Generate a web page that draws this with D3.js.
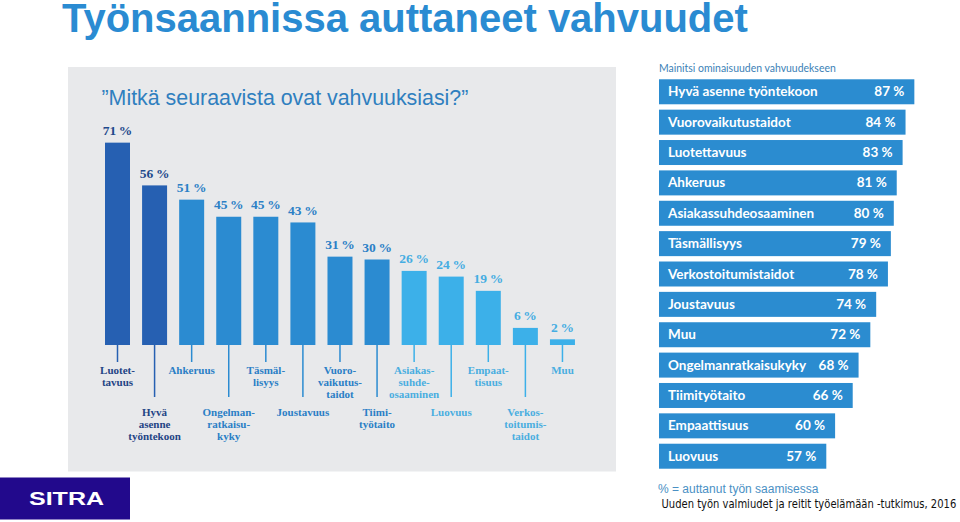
<!DOCTYPE html>
<html><head><meta charset="utf-8">
<script src="https://cdn.jsdelivr.net/npm/d3@7/dist/d3.min.js"></script>
<style>html,body{margin:0;padding:0;background:#fff;}svg{display:block;}</style>
</head><body>
<script>
// ---- data ----
const leftCategories = ["Luotettavuus","Hyvä asenne työntekoon","Ahkeruus","Ongelmanratkaisukyky","Täsmällisyys","Joustavuus","Vuorovaikutustaidot","Tiimityötaito","Asiakassuhdeosaaminen","Luovuus","Empaattisuus","Verkostoitumistaidot","Muu"];
const leftValues = [71,56,51,45,45,43,31,30,26,24,19,6,2];
const leftTickLabels = [["Luotet-","tavuus"],["Hyvä","asenne","työntekoon"],["Ahkeruus"],["Ongelman-","ratkaisu-","kyky"],["Täsmäl-","lisyys"],["Joustavuus"],["Vuoro-","vaikutus-","taidot"],["Tiimi-","työtaito"],["Asiakas-","suhde-","osaaminen"],["Luovuus"],["Empaat-","tisuus"],["Verkos-","toitumis-","taidot"],["Muu"]];
const rightCategories = ["Hyvä asenne työntekoon","Vuorovaikutustaidot","Luotettavuus","Ahkeruus","Asiakassuhdeosaaminen","Täsmällisyys","Verkostoitumistaidot","Joustavuus","Muu","Ongelmanratkaisukyky","Tiimityötaito","Empaattisuus","Luovuus"];
const rightValues = [87,84,83,81,80,79,78,74,72,68,66,60,57];
const texts = {
  title: "Työnsaannissa auttaneet vahvuudet",
  question: "\u201DMitkä seuraavista ovat vahvuuksiasi?\u201D",
  rightTitle: "Mainitsi ominaisuuden vahvuudekseen",
  note: "% = auttanut työn saamisessa",
  source: "Uuden työn valmiudet ja reitit työelämään -tutkimus, 2016",
  logo: "SITRA"
};

// ---- drawing ----
const W = 960, H = 522;
const svg = d3.select("body").append("svg").attr("width", W).attr("height", H);

function fit(sel, base, width) {
  const w = sel.node().getComputedTextLength();
  sel.attr("font-size", base * width / w);
}

// title
const t = svg.append("text").attr("x", 62).attr("y", 32)
  .attr("font-family", "Liberation Sans, Arial, sans-serif").attr("font-weight", "bold")
  .attr("font-size", 40).attr("fill", "#2a8bd2").text(texts.title);
fit(t, 40, 686);

// left panel
svg.append("rect").attr("x", 68).attr("y", 67).attr("width", 548).attr("height", 404.5).attr("fill", "#e8e9eb");
const q = svg.append("text").attr("x", 101.5).attr("y", 104.5)
  .attr("font-family", "Liberation Sans, Arial, sans-serif").attr("font-size", 20)
  .attr("fill", "#2f7fbf").text(texts.question);
fit(q, 20, 367);

const xL = d3.scaleBand().domain(leftCategories).range([98.96, 581]).paddingInner(0.326).paddingOuter(0.163);
const yL = d3.scaleLinear().domain([0, 100]).range([345, 60]);

const barCol = i => i < 2 ? "#2660b2" : (i < 8 ? "#2b8bd1" : "#3cb0e9");
const valCol = i => i < 2 ? "#1f4a8c" : (i < 8 ? "#2b80c6" : "#45ade2");
const lblCol = i => i < 2 ? "#1f4485" : (i < 8 ? "#2b7fc6" : "#4aaee0");

const gL = svg.append("g");
leftCategories.forEach((c, i) => {
  const v = leftValues[i];
  const cx = xL(c) + xL.bandwidth() / 2;
  gL.append("rect").attr("x", xL(c)).attr("y", yL(v)).attr("width", xL.bandwidth())
    .attr("height", yL(0) - yL(v)).attr("fill", barCol(i));
  gL.append("text").attr("x", cx).attr("y", yL(v) - 7.5).attr("text-anchor", "middle")
    .attr("font-family", "Liberation Serif, serif").attr("font-weight", "bold").attr("font-size", 13.5)
    .attr("fill", valCol(i)).text(v + "\u2009%");
  const lower = i % 2 === 1;
  const lineEnd = lower ? 397 : 362;
  gL.append("line").attr("x1", cx).attr("x2", cx).attr("y1", yL(0)).attr("y2", lineEnd)
    .attr("stroke", barCol(i)).attr("stroke-width", 1.5);
  const base = lower ? 415.5 : 374;
  const tx = gL.append("text").attr("text-anchor", "middle")
    .attr("font-family", "Liberation Serif, serif").attr("font-weight", "bold").attr("font-size", 11)
    .attr("fill", lblCol(i));
  leftTickLabels[i].forEach((ln, k) => {
    tx.append("tspan").attr("x", cx).attr("y", base + k * 12).text(ln);
  });
});

// right panel
const rt = svg.append("text").attr("x", 659).attr("y", 71.5).attr("font-family", "Lato, sans-serif")
  .attr("font-size", 11).attr("fill", "#3b7fb6").text(texts.rightTitle);
fit(rt, 11, 177);
const xR = d3.scaleLinear().domain([0, 100]).range([659, 952.5]);
const yR = d3.scaleBand().domain(rightCategories).range([76.6, 471.4]).paddingInner(0.177).paddingOuter(0.0885);
const gR = svg.append("g");
rightCategories.forEach((c, i) => {
  const v = rightValues[i];
  const y = yR(c), h = yR.bandwidth();
  gR.append("rect").attr("x", xR(0)).attr("y", y).attr("width", xR(v) - xR(0)).attr("height", h).attr("fill", "#2b8cd0");
  gR.append("text").attr("x", 668).attr("y", y + h / 2 + 4.6)
    .attr("font-family", "Lato, sans-serif").attr("font-weight", "bold").attr("font-size", 13.5)
    .attr("fill", "#fff").text(c);
  gR.append("text").attr("x", xR(v) - 10).attr("y", y + h / 2 + 4.6).attr("text-anchor", "end")
    .attr("font-family", "Lato, sans-serif").attr("font-weight", "bold").attr("font-size", 13.5)
    .attr("fill", "#fff").text(v + " %");
});

// footer
svg.append("text").attr("x", 658).attr("y", 492.7).attr("font-family", "Liberation Sans, Arial, sans-serif")
  .attr("font-size", 12).attr("fill", "#4a90c4").text(texts.note);
const srcG = svg.append("g");
const src = srcG.append("text").attr("x", 0).attr("y", 0).attr("font-family", "DejaVu Sans, sans-serif")
  .attr("font-size", 11.5).attr("fill", "#111").text(texts.source);
const sw = src.node().getComputedTextLength();
srcG.attr("transform", `translate(661.5,507.7) scale(${295 / sw},1)`);

// logo
svg.append("rect").attr("x", 0).attr("y", 477.5).attr("width", 130).attr("height", 42).attr("fill", "#22098c");
const logoG = svg.append("g");
const lg = logoG.append("text").attr("x", 0).attr("y", 0).attr("font-family", "Liberation Sans, Arial, sans-serif")
  .attr("font-weight", "bold").attr("font-size", 18.5).attr("fill", "#fff").text(texts.logo);
const lw = lg.node().getComputedTextLength();
logoG.attr("transform", `translate(29,505) scale(${75 / lw},1)`);
</script>
</body></html>
